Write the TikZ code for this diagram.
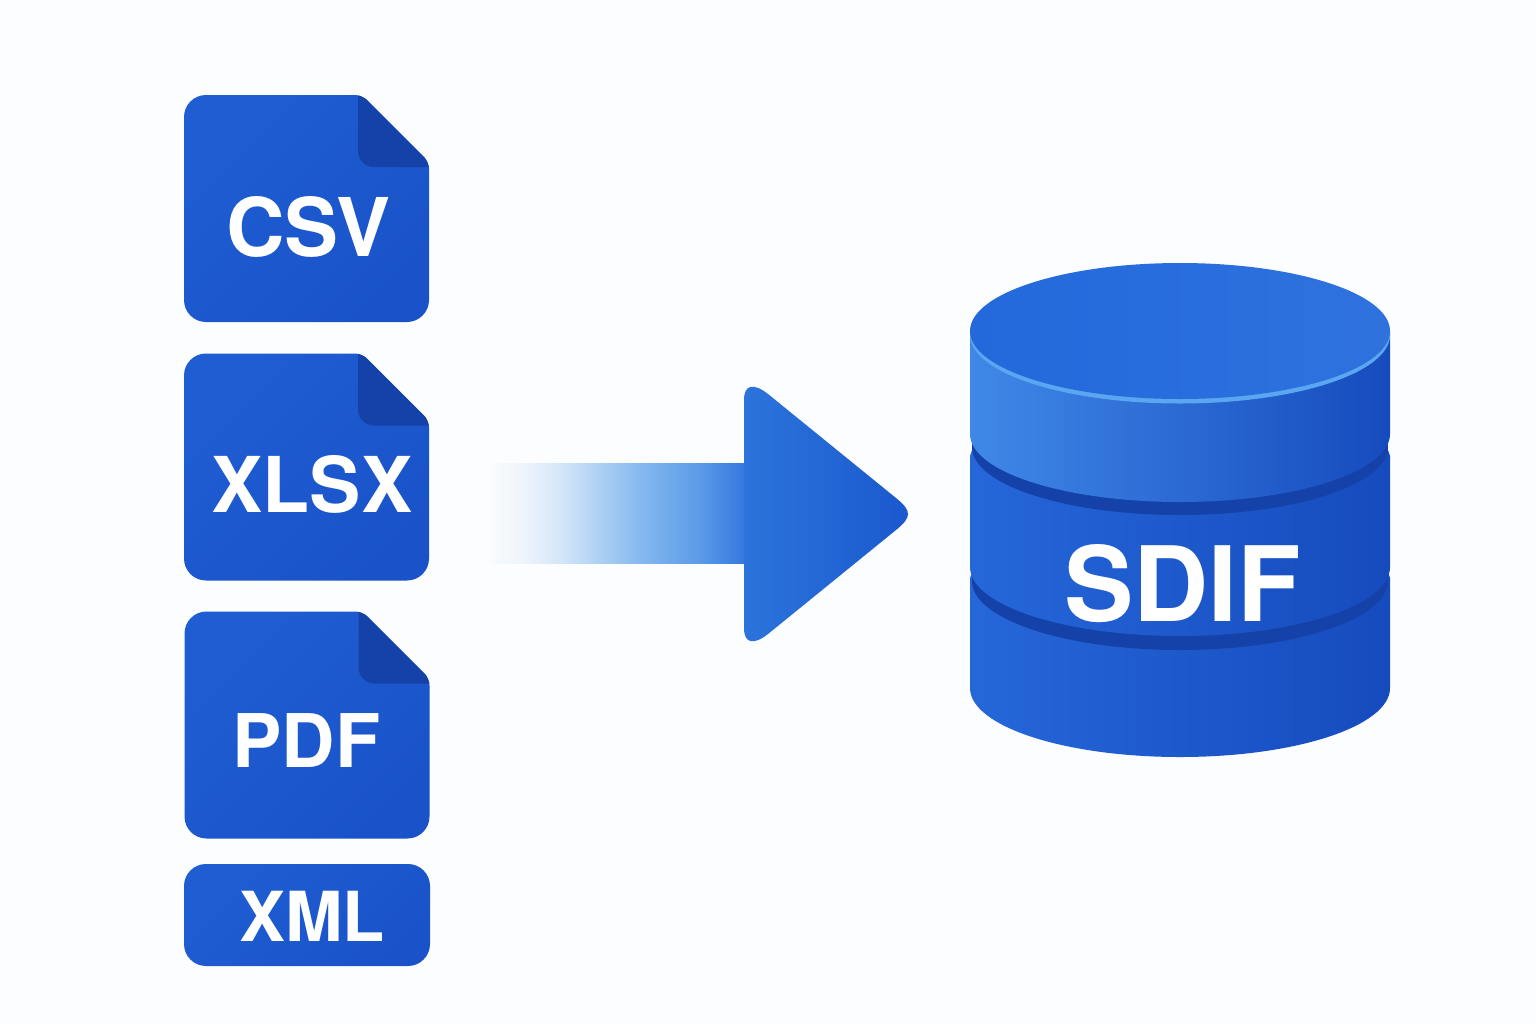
\documentclass[tikz,border=0pt]{standalone}
\usepackage{fontspec}
\setmainfont{TeX Gyre Heros}
\usepackage{tikz}
\definecolor{paper}{HTML}{FCFDFE}
\definecolor{filelight}{HTML}{1F5DD2}
\definecolor{filedark}{HTML}{1A53C9}
\definecolor{folddark}{HTML}{1542A8}
\definecolor{rimlight}{HTML}{5BA6F1}
\definecolor{headlight}{HTML}{2C74DC}
\definecolor{headdark}{HTML}{1A58CD}
\definecolor{toplight}{HTML}{4088E8}
\definecolor{topmid}{HTML}{2A6ADA}
\definecolor{banddark}{HTML}{164BBE}
\definecolor{bandlight}{HTML}{2567D9}
\definecolor{disklight}{HTML}{2369DC}
\definecolor{diskdark}{HTML}{2F72DE}
\pgfdeclarehorizontalshading{shaftfade}{100bp}{rgb(0bp)=(.988,.992,.996);rgb(25bp)=(.988,.992,.996);rgb(32bp)=(.933,.961,.988);rgb(39.5bp)=(.835,.902,.973);rgb(47bp)=(.682,.816,.957);rgb(55bp)=(.518,.722,.937);rgb(66.5bp)=(.353,.604,.91);rgb(75bp)=(.2,.47,.87);rgb(100bp)=(.2,.47,.87)}
\tikzset{
	filebody/.style={top color=filelight,bottom color=filedark,shading angle=45},
	filelabel/.style={text=white,inner sep=0pt,font=\bfseries\fontsize{#1}{#1}\selectfont},
	filefold/.style={fill=folddark,rounded corners=8pt},
	dbband/.style={left color=bandlight,right color=banddark},
	dbgroove/.style={fill=folddark},
	fileicon/.pic={
		\path[filebody,path picture={\fill[filefold] (174,-40) -- (174,72) -- (280,72) -- (280,-40) -- cycle;}]
			(0,110) [rounded corners=11pt] -- (0,0) [rounded corners=3.5pt] -- (178,0) -- (245,67) [rounded corners=11pt] -- (245,227) -- (0,227) -- cycle;
	}
}
\begin{document}
\begin{tikzpicture}[x=0.5pt,y=-0.5pt]
	\fill[paper] (0,0) rectangle (1536,1024);
	\pic at (184,95) {fileicon};
	\pic at (184,353.5) {fileicon};
	\pic at (184.5,611.5) {fileicon};
	\path[filebody,rounded corners=11pt] (184,864) rectangle (430,966);
	\node[filelabel=40.5] (csv) at (308.5,227) {CSV};
	\node[filelabel=38.5] (xlsx) at (312,484.5) {XLSX};
	\node[filelabel=37] (pdf) at (306.5,741) {PDF};
	\node[filelabel=34.5] (xml) at (312,916.5) {XML};
	\path[shading=shaftfade] (485,463) rectangle (745,563);
	\path[left color=headlight,right color=headdark]
		(744,463) -- (744,400) .. controls (744,384) and (754,383) .. (768,394) -- (896,498)
		.. controls (912,511) and (912,517) .. (896,530) -- (768,634) .. controls (754,645) and (744,644) .. (744,628) -- (744,563) -- cycle;
	\path[dbband] (972,572) -- (970,578) -- (970,688) arc[start angle=180,end angle=0,x radius=210,y radius=69] -- (1390,578) -- (1388,572) -- cycle;
	\fill[dbgroove] (1180,581) ellipse [x radius=208,y radius=69];
	\path[dbband] (972,450) -- (970,456) -- (970,567) arc[start angle=180,end angle=0,x radius=210,y radius=69] -- (1390,456) -- (1388,450) -- cycle;
	\fill[dbgroove] (1180,447) ellipse [x radius=208,y radius=68];
	\path[left color=toplight,middle color=topmid,right color=banddark] (970,331) -- (970,434) arc[start angle=180,end angle=0,x radius=210,y radius=68] -- (1390,331) -- cycle;
	\fill[rimlight] (1180,335) ellipse [x radius=210,y radius=68.5];
	\path[left color=disklight,right color=diskdark] (1180,331) ellipse [x radius=210,y radius=68];
	\node[filelabel=52] (sdif) at (1182.5,584) {SDIF};
\end{tikzpicture}
\end{document}
